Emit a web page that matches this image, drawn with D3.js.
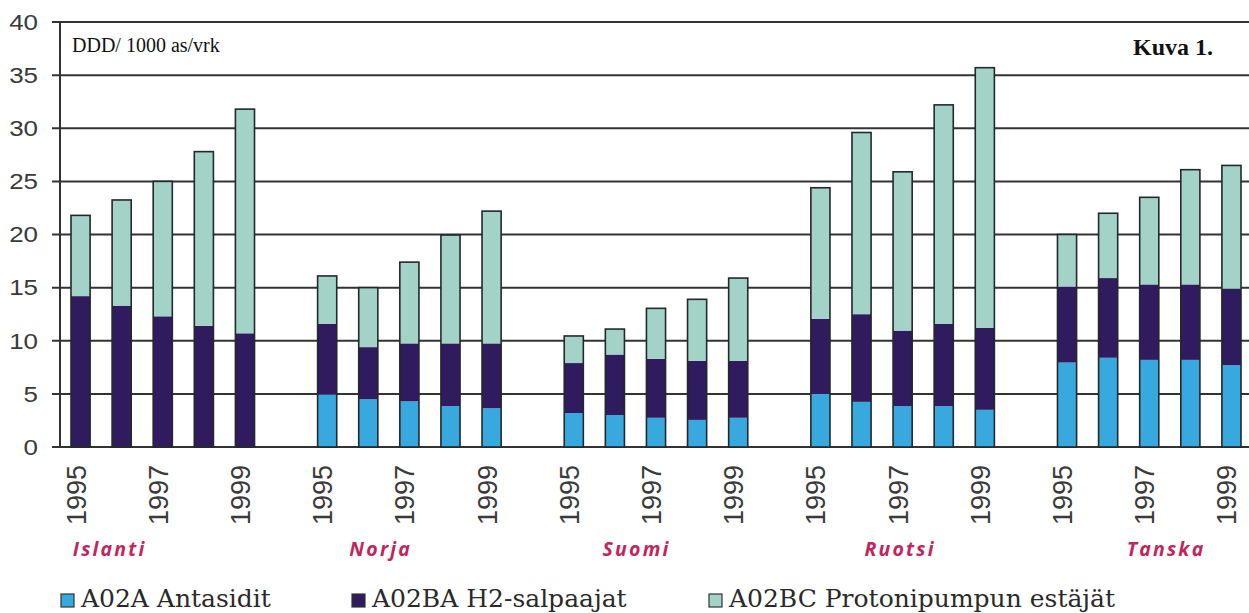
<!DOCTYPE html>
<html>
<head>
<meta charset="utf-8">
<script src="https://cdn.jsdelivr.net/npm/d3@7"></script>
<style>
  html, body { margin: 0; padding: 0; background: #fff; }
  svg { display: block; }
</style>
</head>
<body>
<svg id="chart" width="1249" height="613"></svg>
<script>
// ---- data ----
const countries = ["Islanti", "Norja", "Suomi", "Ruotsi", "Tanska"];
const years = ["1995", "1996", "1997", "1998", "1999"];
const yearTickLabels = ["1995", "", "1997", "", "1999"];
const seriesNames = ["A02A Antasidit", "A02BA H2-salpaajat", "A02BC Protonipumpun estäjät"];
// values per country (5 years each), DDD / 1000 as / vrk
const antasidit = [
  0, 0, 0, 0, 0,
  4.95, 4.5, 4.3, 3.85, 3.65,
  3.2, 3.0, 2.75, 2.55, 2.75,
  5.0, 4.25, 3.85, 3.85, 3.5,
  7.95, 8.4, 8.2, 8.2, 7.7
];
const h2salpaajat = [
  14.2, 13.3, 12.3, 11.4, 10.7,
  6.65, 4.9, 5.45, 5.9, 6.1,
  4.7, 5.7, 5.55, 5.55, 5.35,
  7.05, 8.25, 7.1, 7.75, 7.7,
  7.15, 7.5, 7.1, 7.1, 7.2
];
const protonipumppu = [
  7.6, 9.95, 12.7, 16.4, 21.1,
  4.5, 5.6, 7.65, 10.2, 12.45,
  2.55, 2.4, 4.75, 5.8, 7.8,
  12.35, 17.1, 14.95, 20.6, 24.5,
  4.9, 6.1, 8.2, 10.8, 11.6
];
const yTicks = [0, 5, 10, 15, 20, 25, 30, 35, 40];
const unitLabel = "DDD/ 1000 as/vrk";
const figLabel = "Kuva 1.";

// ---- layout / style ----
const colors = ["#38a9de", "#2f1b5e", "#a3d2c6"];
const labelShift = [-0.19, 0.54, 0.70, 1.07, 1.45]; // country label start, in bar steps from first bar centre
const svg = d3.select("#chart");

// slot keys: 5 bars per country + a gap slot between countries
const slots = [];
countries.forEach((c, ci) => {
  years.forEach(y => slots.push(c + "-" + y));
  if (ci < countries.length - 1) slots.push("gap-" + ci);
});

const x = d3.scaleBand().domain(slots).range([60, 1252]).paddingInner(0.535).paddingOuter(0.2675);
const y = d3.scaleLinear().domain([0, 40]).range([447, 22]);

// records
const rows = [];
countries.forEach((c, ci) => {
  years.forEach((yr, yi) => {
    const k = ci * 5 + yi;
    rows.push({ key: c + "-" + yr, country: c, year: yr, yi,
      s0: antasidit[k], s1: h2salpaajat[k], s2: protonipumppu[k] });
  });
});
const stack = d3.stack().keys(["s0", "s1", "s2"])(rows);

// gridlines
svg.append("g").selectAll("line").data(yTicks).join("line")
  .attr("x1", 52).attr("x2", 1249)
  .attr("y1", d => y(d)).attr("y2", d => y(d))
  .attr("stroke", "#333").attr("stroke-width", 2);

// y axis line
svg.append("line").attr("x1", 60).attr("x2", 60).attr("y1", y(40)).attr("y2", y(0))
  .attr("stroke", "#333").attr("stroke-width", 2);

// y tick labels
svg.append("g").selectAll("text").data(yTicks).join("text")
  .attr("transform", d => `translate(38,${y(d)}) scale(1.18,1)`)
  .attr("text-anchor", "end").attr("dominant-baseline", "central")
  .attr("font-family", "Liberation Sans, Arial, sans-serif").attr("font-size", 22)
  .attr("fill", "#3a3a3a").text(d => d);

// bars
const barG = svg.append("g");
stack.forEach((layer, li) => {
  barG.append("g").selectAll("rect").data(layer.filter(d => d[1] - d[0] > 0)).join("rect")
    .attr("x", d => x(d.data.key)).attr("width", x.bandwidth())
    .attr("y", d => y(d[1])).attr("height", d => y(d[0]) - y(d[1]))
    .attr("fill", colors[li]);
});
barG.append("g").selectAll("rect").data(rows).join("rect")
  .attr("x", d => x(d.key)).attr("width", x.bandwidth())
  .attr("y", d => y(d.s0 + d.s1 + d.s2)).attr("height", d => y(0) - y(d.s0 + d.s1 + d.s2))
  .attr("fill", "none").attr("stroke", "#22292c").attr("stroke-width", 1.6);

// x year labels (rotated)
svg.append("g").selectAll("text").data(rows.filter(d => yearTickLabels[d.yi] !== "")).join("text")
  .attr("transform", d => `translate(${x(d.key) + x.bandwidth() / 2 - 4},465) rotate(-90)`)
  .attr("text-anchor", "end").attr("dominant-baseline", "central")
  .attr("font-family", "Liberation Sans, Arial, sans-serif").attr("font-size", 27)
  .attr("fill", "#3a3a3a").text(d => yearTickLabels[d.yi]);

// country labels
svg.append("g").selectAll("text").data(countries).join("text")
  .attr("x", (c, i) => x(c + "-1995") + x.bandwidth() / 2 + labelShift[i] * x.step())
  .attr("y", 556)
  .attr("font-family", "Open Sans, sans-serif").attr("font-size", 19.5)
  .attr("font-weight", "bold").attr("font-style", "italic")
  .attr("letter-spacing", 2.2)
  .attr("fill", "#c2255c").text(d => d);

// unit & figure labels
svg.append("text").attr("x", 72).attr("y", 52)
  .attr("font-family", "Liberation Serif, Times New Roman, serif").attr("font-size", 20)
  .attr("fill", "#111").text(unitLabel);
svg.append("text").attr("x", 1213).attr("y", 55).attr("text-anchor", "end")
  .attr("font-family", "Liberation Serif, Times New Roman, serif").attr("font-size", 24)
  .attr("font-weight", "bold").attr("fill", "#111").text(figLabel);

// legend
const legendX = [61, 352, 709];
const lg = svg.append("g").selectAll("g").data(seriesNames).join("g")
  .attr("transform", (d, i) => `translate(${legendX[i]},594)`);
lg.append("rect").attr("width", 13).attr("height", 13)
  .attr("fill", (d, i) => colors[i]).attr("stroke", "#333").attr("stroke-width", 1.2);
lg.append("text").attr("x", 20).attr("y", 13)
  .attr("font-family", "DejaVu Serif, serif").attr("font-size", 25)
  .attr("fill", "#2a2a2a").text(d => d);
</script>
</body>
</html>
